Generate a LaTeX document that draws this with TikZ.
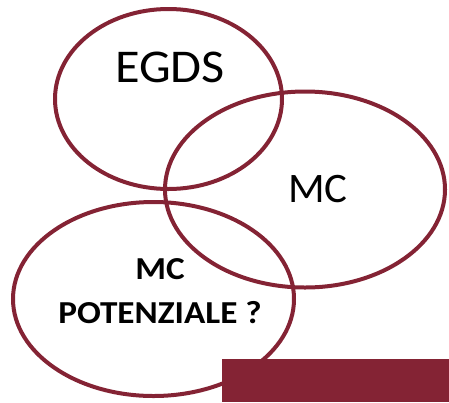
\documentclass[tikz,border=0pt]{standalone}
\usepackage{fontspec}
\setmainfont{Carlito}
\definecolor{wine}{RGB}{132,35,52}
\begin{document}
\begin{tikzpicture}[x=1pt,y=-1pt,
  ring/.style={draw=wine,line width=4pt},
  label/.style={text=black,inner sep=0pt,align=center}]
\useasboundingbox (0,0) rectangle (449,402);
% three overlapping sets
\draw[ring] (168.5,99) ellipse [x radius=113.5, y radius=90];
\draw[ring] (305,189.5) ellipse [x radius=140, y radius=98];
\draw[ring] (153.5,299) ellipse [x radius=140.5, y radius=97];
% bar in the lower right corner
\fill[wine] (222,359) rectangle (449,402);
% set labels
\node[label,font=\fontsize{47}{50}\selectfont,xscale=1.07] (egds) at (170,67) {EGDS};
\node[label,font=\fontsize{42}{46}\selectfont,xscale=1.02] (mc) at (318,189) {MC};
\node[label,font=\bfseries\fontsize{32}{44}\selectfont,xscale=1.1] (mcp) at (160,291) {MC\\POTENZIALE ?};
\end{tikzpicture}
\end{document}
